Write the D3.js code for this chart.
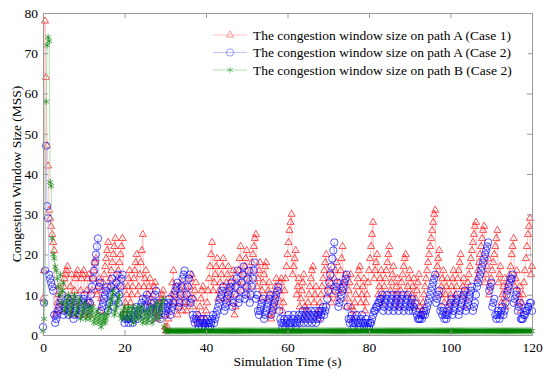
<!DOCTYPE html>
<html>
<head>
<meta charset="utf-8">
<script src="https://cdn.jsdelivr.net/npm/d3@7"></script>
<style>
  body { margin: 0; background: #fff; }
  text { font-family: "Liberation Serif", "Times New Roman", serif; }
</style>
</head>
<body>
<div id="chart"></div>
<script>
// cwnd sampled every 0.25 s from 0 to 120 s
var sampleStep = 0.25;
var xTicks = [0, 20, 40, 60, 80, 100, 120];
var yTicks = [0, 10, 20, 30, 40, 50, 60, 70, 80];
var seriesNames = [
  "The congestion window size on path A (Case 1)",
  "The congestion window size on path A (Case 2)",
  "The congestion window size on path B (Case 2)"
];

var cwndPathA1 = [
  9,16,78,64,47,42,31,29,27,25,23,21,5,6,8,10,12,6,8,10,
  12,14,15,16,17,6,9,12,15,5,8,11,14,15,16,5,8,11,14,15,
  16,5,8,11,14,15,5,8,11,14,16,18,19,10,12,14,6,9,11,13,
  15,17,19,21,23,12,14,16,18,20,22,24,12,14,16,18,20,22,24,12,
  6,8,10,12,14,16,8,10,12,14,16,18,20,10,12,15,18,21,25,12,
  14,16,8,10,12,14,6,8,10,12,13,6,4,5,7,8,9,10,11,5,
  2,1,2,4,6,8,10,13,16,8,10,12,5,7,9,11,13,6,8,10,
  12,6,8,10,12,14,15,7,9,11,13,4,3,5,7,9,11,12,3,4,
  6,8,11,14,17,20,23,11,13,15,17,19,9,11,13,15,17,19,9,11,
  13,15,17,8,10,12,14,16,5,7,10,13,16,19,22,11,13,15,17,19,
  21,10,12,14,16,18,20,22,24,25,12,14,16,18,9,11,13,15,17,18,
  9,11,13,5,4,6,8,10,12,14,7,9,11,13,14,6,8,11,14,17,
  20,23,26,28,30,15,17,19,21,10,12,14,7,9,11,13,15,7,4,6,
  8,10,12,14,16,17,8,10,12,5,4,6,8,10,12,14,16,18,20,10,
  12,14,16,8,10,12,14,16,18,9,11,13,16,19,22,11,13,15,7,9,
  11,13,15,7,4,6,8,10,12,14,16,17,8,10,12,14,6,8,10,13,
  16,19,22,25,28,14,16,18,20,10,12,14,16,8,10,12,14,16,18,20,
  22,11,13,15,17,8,10,12,14,7,9,11,13,15,17,19,20,10,12,14,
  16,8,10,12,14,7,9,11,13,15,7,5,6,8,10,12,14,16,18,20,
  22,24,26,28,30,31,15,17,19,21,10,12,14,16,8,10,12,14,6,8,
  10,12,14,16,8,10,12,14,16,18,20,10,12,14,7,9,11,13,15,17,
  19,21,23,25,27,28,14,16,18,20,22,24,26,27,13,15,17,19,10,12,
  14,16,18,20,22,24,26,13,15,17,8,10,12,14,7,9,11,13,15,17,
  20,22,24,12,14,16,8,10,12,6,8,10,13,16,19,22,25,27,29,15,
  17
];

var cwndPathA2 = [
  2,8,16,47,32,29,15,14,13,12,11,5,3,4,5,6,7,8,9,10,
  5,6,7,8,9,5,6,7,8,9,4,5,6,7,8,9,5,6,7,8,
  9,10,6,7,8,6,8,10,12,14,16,18,20,22,24,12,13,6,7,8,
  9,10,11,12,6,8,10,12,14,7,9,11,13,15,8,10,12,14,15,5,
  3,4,5,4,3,4,5,6,3,4,5,6,7,4,5,6,7,8,9,5,
  7,9,10,5,6,7,8,4,6,8,10,11,6,7,8,4,5,6,7,8,
  5,6,7,8,9,5,6,7,8,10,11,12,13,7,8,10,12,14,15,16,
  8,10,12,14,15,8,9,5,4,3,4,5,3,2,3,4,2,3,4,2,
  3,4,2,3,2,3,4,5,3,4,5,6,7,8,9,10,11,12,6,7,
  8,9,10,11,12,13,7,8,10,12,14,16,8,9,11,13,15,17,9,10,
  12,14,16,8,10,12,14,16,18,9,10,6,5,6,7,8,9,4,5,6,
  7,8,9,10,5,6,7,8,9,10,11,12,6,4,3,2,3,4,2,3,
  4,5,3,2,3,4,5,3,2,3,4,5,3,4,5,6,3,4,5,6,
  3,4,5,6,3,4,5,6,3,4,5,6,4,5,6,7,5,6,7,9,
  11,13,15,17,19,21,23,11,12,13,7,8,9,10,11,12,13,14,15,7,
  4,3,4,5,3,2,3,4,5,3,2,3,4,5,3,2,3,4,2,3,
  2,3,3,4,5,6,6,7,7,8,8,9,9,10,6,7,8,9,10,6,
  7,8,9,10,6,7,8,9,10,6,7,8,9,10,6,7,8,9,10,6,
  7,8,9,6,7,8,6,5,4,4,4,5,4,5,6,5,6,7,8,9,
  10,11,12,13,14,15,8,9,10,11,6,7,5,6,4,5,4,5,6,7,
  8,9,5,6,7,8,9,10,5,6,7,8,9,10,11,6,7,8,9,10,
  11,12,6,7,8,10,12,13,14,15,16,17,18,19,20,21,22,23,11,12,
  13,7,8,9,5,4,5,6,4,5,6,7,5,6,8,10,11,12,13,14,
  14,15,8,9,10,11,6,7,8,4,4,4,5,5,6,6,7,7,8,8,
  6
];

var cwndPathB2 = [
  1,4,8,58,72,74,73,38,37,24,20,19,17,16,14,12,10,15,8,11,
  13,6,7,8,9,10,5,6,7,8,9,10,5,6,7,8,9,4,5,6,
  7,8,4,5,6,7,4,5,6,7,3,4,5,6,3,4,5,2,3,4,
  5,3,4,5,6,7,8,9,10,11,5,6,7,8,9,10,5,4,5,6,
  7,4,5,6,7,4,5,6,7,3,4,5,6,7,4,5,6,7,3,4,
  5,6,3,4,5,6,7,3,4,5,6,7,8,4,5,6,7,8,9,2,
  1,1,1,1,1,1,1,1,1,1,1,1,1,1,1,1,1,1,1,1,
  1,1,1,1,1,1,1,1,1,1,1,1,1,1,1,1,1,1,1,1,
  1,1,1,1,1,1,1,1,1,1,1,1,1,1,1,1,1,1,1,1,
  1,1,1,1,1,1,1,1,1,1,1,1,1,1,1,1,1,1,1,1,
  1,1,1,1,1,1,1,1,1,1,1,1,1,1,1,1,1,1,1,1,
  1,1,1,1,1,1,1,1,1,1,1,1,1,1,1,1,1,1,1,1,
  1,1,1,1,1,1,1,1,1,1,1,1,1,1,1,1,1,1,1,1,
  1,1,1,1,1,1,1,1,1,1,1,1,1,1,1,1,1,1,1,1,
  1,1,1,1,1,1,1,1,1,1,1,1,1,1,1,1,1,1,1,1,
  1,1,1,1,1,1,1,1,1,1,1,1,1,1,1,1,1,1,1,1,
  1,1,1,1,1,1,1,1,1,1,1,1,1,1,1,1,1,1,1,1,
  1,1,1,1,1,1,1,1,1,1,1,1,1,1,1,1,1,1,1,1,
  1,1,1,1,1,1,1,1,1,1,1,1,1,1,1,1,1,1,1,1,
  1,1,1,1,1,1,1,1,1,1,1,1,1,1,1,1,1,1,1,1,
  1,1,1,1,1,1,1,1,1,1,1,1,1,1,1,1,1,1,1,1,
  1,1,1,1,1,1,1,1,1,1,1,1,1,1,1,1,1,1,1,1,
  1,1,1,1,1,1,1,1,1,1,1,1,1,1,1,1,1,1,1,1,
  1,1,1,1,1,1,1,1,1,1,1,1,1,1,1,1,1,1,1,1,
  1
];

var width = 550, height = 378;
var margin = {left: 43, right: 18, top: 13, bottom: 43};
var fontSize = "13.5px";

var svg = d3.select("#chart").append("svg")
    .attr("width", width)
    .attr("height", height);

var x = d3.scaleLinear().domain([0, 120]).range([margin.left, width - margin.right]);
var y = d3.scaleLinear().domain([0, 80]).range([height - margin.bottom, margin.top]);

var series = [
  {name: seriesNames[0], values: cwndPathA1, color: "#ff0000", line: "#ffb4b4",
   symbol: d3.symbol().type(d3.symbolTriangle2).size(36), op: 0.85},
  {name: seriesNames[1], values: cwndPathA2, color: "#0000ff", line: "#b4b4ff",
   symbol: d3.symbol().type(d3.symbolCircle).size(42), op: 0.85},
  {name: seriesNames[2], values: cwndPathB2, color: "#008000", line: "#a0d8a0",
   symbol: d3.symbol().type(d3.symbolAsterisk).size(32), op: 0.85}
];

var line = d3.line()
    .x(function(d, i) { return x(i * sampleStep); })
    .y(function(d) { return y(d); });

series.forEach(function(s) {
  var g = svg.append("g");
  g.append("path")
    .datum(s.values)
    .attr("fill", "none")
    .attr("stroke", s.line)
    .attr("stroke-width", 0.8)
    .attr("d", line);
  g.selectAll("path.mk")
    .data(s.values)
    .enter()
    .append("path")
    .attr("class", "mk")
    .attr("transform", function(d, i) {
      return "translate(" + x(i * sampleStep) + "," + y(d) + ")";
    })
    .attr("d", s.symbol)
    .attr("fill", "none")
    .attr("stroke", s.color)
    .attr("stroke-opacity", s.op)
    .attr("stroke-width", 0.8);
});

// axes box, matlab style ticks pointing inward
var axisColor = "#999";
function styleAxis(g) {
  g.select(".domain").attr("stroke", axisColor);
  g.selectAll(".tick line").attr("stroke", axisColor);
  g.selectAll(".tick text").attr("fill", "#000").style("font-size", fontSize)
    .style("font-family", "'Liberation Serif', 'Times New Roman', serif");
}

svg.append("g")
  .attr("transform", "translate(0," + y(0) + ")")
  .call(d3.axisBottom(x).tickValues(xTicks).tickSizeInner(-5).tickSizeOuter(0).tickPadding(7))
  .call(styleAxis);

svg.append("g")
  .attr("transform", "translate(0," + y(80) + ")")
  .call(d3.axisTop(x).tickValues(xTicks).tickSizeInner(-5).tickSizeOuter(0).tickFormat(""))
  .call(styleAxis);

svg.append("g")
  .attr("transform", "translate(" + x(0) + ",0)")
  .call(d3.axisLeft(y).tickValues(yTicks).tickSizeInner(-5).tickSizeOuter(0).tickPadding(5))
  .call(styleAxis);

svg.append("g")
  .attr("transform", "translate(" + x(120) + ",0)")
  .call(d3.axisRight(y).tickValues(yTicks).tickSizeInner(-5).tickSizeOuter(0).tickFormat(""))
  .call(styleAxis);

// axis titles
svg.append("text")
  .attr("x", (x(0) + x(120)) / 2)
  .attr("y", 366)
  .attr("text-anchor", "middle")
  .style("font-size", fontSize)
  .text("Simulation Time (s)");

svg.append("text")
  .attr("transform", "translate(16," + (y(0) + y(80)) / 2 + ") rotate(-90)")
  .attr("text-anchor", "middle")
  .attr("dy", "0.35em")
  .style("font-size", fontSize)
  .text("Congestion Window Size (MSS)");

// legend
var legend = svg.append("g").attr("transform", "translate(210,26)");
legend.append("rect")
  .attr("width", 318).attr("height", 54)
  .attr("fill", "#fff");

series.forEach(function(s, i) {
  var row = legend.append("g").attr("transform", "translate(0," + (9 + i * 17.5) + ")");
  row.append("line")
    .attr("x1", 3).attr("x2", 37)
    .attr("stroke", s.line).attr("stroke-width", 0.8);
  row.append("path")
    .attr("transform", "translate(20,0)")
    .attr("d", s.symbol)
    .attr("fill", "none")
    .attr("stroke", s.color)
    .attr("stroke-opacity", 0.5)
    .attr("stroke-width", 0.8);
  row.append("text")
    .attr("x", 43)
    .attr("dy", "0.35em")
    .style("font-size", fontSize)
    .text(s.name);
});
</script>
</body>
</html>
